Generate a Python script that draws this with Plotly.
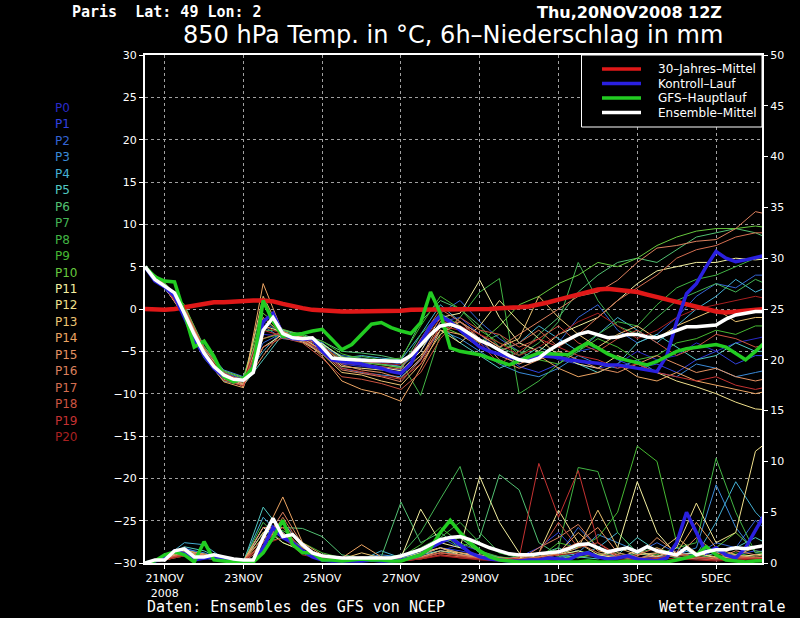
import plotly.graph_objects as go

# ---------------- data ----------------
hours6 = list(range(0, 390, 6))     # 20NOV2008 12Z + h
hours12 = list(range(0, 390, 12))

tick_hours = [12, 60, 108, 156, 204, 252, 300, 348]
tick_labels = ["21NOV<br>2008", "23NOV", "25NOV", "27NOV", "29NOV", "1DEC", "3DEC", "5DEC"]

clim_temp = [0.0, -0.1, -0.1, 0.0, 0.2, 0.4, 0.6, 0.8, 0.8, 0.9, 0.9, 1.0, 1.0, 0.9, 0.6, 0.3,
             0.1, -0.1, -0.2, -0.2, -0.3, -0.3, -0.3, -0.3, -0.3, -0.3, -0.2, -0.1, -0.1, 0.0,
             0.0, 0.0, 0.0, 0.0, 0.0, 0.0, 0.1, 0.1, 0.2, 0.3, 0.5, 0.8, 1.1, 1.4, 1.7, 2.0,
             2.3, 2.4, 2.3, 2.2, 2.0, 1.7, 1.4, 1.1, 0.8, 0.5, 0.2, -0.1, -0.3, -0.4, -0.3,
             -0.1, 0.0, 0.1, 0.1]

ctrl_temp = [5.0, 3.3, 2.6, 1.5, -1.0, -3.5, -5.5, -7.0, -8.0, -8.5, -8.3, -7.0, -1.5, -0.5,
             -3.0, -3.5, -3.6, -3.5, -5.0, -6.0, -6.2, -6.3, -6.5, -6.8, -7.0, -7.4, -7.6,
             -6.5, -4.0, -2.0, -0.8, -1.5, -2.5, -3.5, -4.5, -5.0, -5.3, -5.7, -6.0, -5.8,
             -5.5, -5.6, -5.7, -6.0, -6.2, -6.3, -6.4, -6.6, -6.6, -6.8, -7.0, -7.2, -7.4,
             -5.5, -1.5, 1.8, 3.0, 5.0, 6.8, 6.0, 5.6, 5.8, 6.1, 6.4, 6.6]

gfs_temp = [5.0, 3.8, 3.3, 3.2, -0.5, -4.5, -3.8, -5.6, -8.0, -8.6, -8.2, -6.9, 1.0, -1.5,
            -3.2, -3.1, -2.9, -2.6, -2.4, -3.6, -4.8, -4.2, -3.0, -1.8, -1.6, -2.2, -2.6,
            -2.9, -1.6, 2.0, -0.5, -4.6, -5.0, -5.2, -5.4, -5.8, -6.2, -6.6, -6.1, -5.6,
            -5.2, -5.3, -5.4, -5.4, -4.6, -4.0, -4.6, -5.3, -5.8, -6.1, -6.4, -6.6, -6.2,
            -5.6, -5.0, -4.7, -4.5, -4.3, -4.2, -4.5, -5.3, -6.0, -5.0, -3.9, -3.5]

mean_temp = [5.0, 3.5, 2.7, 1.9, -0.5, -3.0, -5.2, -6.8, -7.8, -8.3, -8.4, -7.5, -2.5, -1.0,
             -2.9, -3.4, -3.5, -3.4, -4.5, -5.8, -5.9, -6.0, -6.0, -6.1, -6.1, -6.2, -6.2,
             -5.5, -4.2, -3.0, -2.0, -1.8, -2.2, -2.9, -3.7, -4.2, -4.9, -5.5, -6.0, -6.2,
             -5.8, -4.9, -4.2, -3.6, -3.0, -2.7, -3.0, -3.4, -3.3, -3.0, -3.0, -3.3, -3.4,
             -3.0, -2.5, -2.1, -2.1, -2.0, -1.9, -1.2, -0.7, -0.5, -0.3, -0.3, -0.2]

ctrl_prec = [0.0, 0.2, 0.5, 1.2, 0.9, 0.3, 0.5, 0.6, 0.3, 0.2, 0.1, 0.1, 1.5, 3.5, 2.5, 2.0,
             1.2, 0.6, 0.3, 0.2, 0.2, 0.2, 0.2, 0.3, 0.2, 0.2, 0.3, 0.5, 0.8, 1.5, 2.0, 2.5,
             1.8, 1.0, 0.6, 0.4, 0.3, 0.2, 0.2, 0.3, 0.3, 0.5, 0.4, 0.3, 0.8, 1.0, 0.6, 0.4,
             0.5, 0.7, 0.4, 0.3, 0.2, 0.5, 2.0, 5.0, 3.0, 1.0, 1.5, 0.8, 0.5, 1.5, 3.2, 4.9, 5.0]

gfs_prec = [0.0, 0.2, 0.8, 1.1, 0.8, 0.1, 2.1, 0.3, 0.2, 0.1, 0.0, 0.1, 1.0, 2.5, 4.2, 1.8,
            1.0, 1.0, 0.3, 0.3, 0.2, 0.3, 0.4, 0.3, 0.3, 0.2, 0.2, 0.5, 0.8, 1.5, 3.0, 4.2,
            3.0, 2.0, 1.2, 0.6, 0.3, 0.2, 0.1, 0.1, 0.1, 0.1, 0.1, 0.1, 0.1, 0.2, 0.1, 0.1,
            0.1, 0.2, 0.1, 0.1, 0.1, 0.1, 0.3, 0.5, 0.8, 1.6, 0.8, 0.3, 0.2, 0.1, 0.2, 0.3, 0.3]

mean_prec = [0.0, 0.3, 0.3, 1.2, 1.4, 0.6, 0.6, 0.8, 0.6, 0.4, 0.3, 0.3, 2.5, 4.4, 2.6, 2.8,
             1.8, 1.0, 0.7, 0.6, 0.5, 0.5, 0.5, 0.5, 0.5, 0.5, 0.7, 1.0, 1.3, 1.8, 2.3, 2.5,
             2.6, 2.3, 1.9, 1.5, 1.2, 0.9, 0.8, 0.8, 0.9, 1.0, 1.1, 1.4, 1.8, 1.9, 1.5, 1.1,
             1.3, 1.5, 1.1, 1.6, 1.2, 1.0, 0.8, 1.5, 0.8, 1.1, 1.3, 1.3, 1.5, 1.4, 1.6, 1.8, 1.9]

member_names = ["P%d" % i for i in range(21)]
member_colors = ["#2a2ac8", "#3242e0", "#3464d4", "#3a8ad8", "#44b0d4", "#52c8c0", "#52c072",
                 "#44b454", "#42b444", "#46b832", "#66c83e", "#f4f0a0", "#f0e08c", "#ecc472",
                 "#eca462", "#e49262", "#dc805e", "#d46e50", "#cc5440", "#c43232", "#a82020"]

member_temp = [
    [5.0, 2.5, -0.8, -5.5, -8.2, -8.8, -3.0, -3.2, -3.6, -4.8, -6.5, -6.8, -7.0, -7.2, -3.5, -1.0, -2.5, -4.0, -5.5, -6.5, -5.0, -6.0, -6.5, -7.0, -6.5, -5.0, -6.0, -5.5, -4.0, -5.0, -4.0, -3.5, -3.0],
    [5.0, 2.8, -0.2, -4.8, -7.5, -8.3, -1.5, -3.0, -3.3, -4.0, -6.0, -6.5, -6.3, -6.8, -5.0, -1.5, -1.0, -3.0, -5.0, -6.8, -7.5, -6.5, -5.0, -4.5, -6.0, -7.0, -6.5, -7.5, -6.0, -5.0, -6.5, -5.5, -5.5],
    [5.0, 2.6, -0.6, -5.0, -7.7, -8.6, -4.0, -2.8, -3.5, -4.5, -5.5, -5.8, -6.2, -6.5, -4.5, -0.5, 1.0, -1.5, -3.5, -5.0, -6.0, -4.0, -1.0, 0.5, -2.5, -4.0, -3.0, -1.0, 1.5, 3.0, 2.5, 4.0, 4.0],
    [5.0, 2.9, 0.0, -4.5, -7.2, -8.0, -2.0, -3.5, -3.8, -5.0, -7.0, -7.5, -7.8, -8.0, -6.0, -2.5, -3.5, -5.0, -6.5, -7.5, -8.0, -7.0, -5.5, -6.5, -7.0, -6.0, -7.5, -8.0, -6.5, -7.0, -8.0, -7.5, -7.0],
    [5.0, 2.4, -0.4, -5.2, -7.9, -8.4, -5.0, -2.5, -3.2, -4.0, -5.8, -5.5, -5.8, -6.0, -3.0, 0.5, -1.5, -3.5, -5.0, -4.0, -2.0, -3.5, -5.0, -3.0, -1.0, -2.5, -4.0, -2.0, 0.0, 1.5, 3.5, 2.0, 3.0],
    [5.0, 2.7, -0.9, -5.8, -8.5, -9.0, -6.0, -3.0, -3.7, -4.2, -6.2, -6.0, -6.5, -6.8, -4.0, -2.0, -4.0, -5.5, -7.0, -6.0, -4.5, -5.5, -6.5, -7.5, -6.5, -4.0, -3.0, -4.5, -6.0, -5.5, -4.0, -5.0, -5.0],
    [5.0, 3.0, 0.3, -4.4, -7.4, -8.2, 0.5, -2.5, -3.0, -3.8, -5.0, -5.2, -5.5, -6.0, -1.5, 1.0, 0.0, -2.0, -4.5, -5.5, -3.0, -1.0, 2.0, 4.0, 5.5, 6.0, 5.5, 7.0, 8.5, 9.0, 9.5, 9.0, 8.0],
    [5.0, 2.8, -0.3, -5.0, -7.6, -8.5, -2.5, -2.6, -3.4, -4.2, -5.6, -6.2, -6.5, -7.0, -3.0, -0.5, -2.0, -4.0, -3.0, -5.5, -4.0, -1.5, 5.5, 1.0, -2.0, -3.0, -1.0, 1.0, 2.0, 3.0, 2.0, 3.5, 2.5],
    [5.0, 2.6, -0.5, -4.9, -7.8, -8.7, -1.0, -3.3, -3.9, -4.6, -5.8, -5.6, -6.0, -6.3, -10.2, -3.0, -1.0, 2.0, 3.6, -10.0, -8.5, -6.5, -4.5, -3.0, -1.5, -2.0, 0.5, 2.5, 3.5, 4.0, 5.0, 6.0, 5.5],
    [5.0, 2.9, -0.2, -5.1, -7.7, -8.4, -3.5, -2.9, -3.2, -3.8, -5.3, -5.9, -6.0, -5.8, -2.0, 1.5, 0.0, -2.5, -4.0, -5.0, -6.0, -6.5, -5.0, -3.5, -4.5, -6.0, -5.5, -4.0, -3.5, -2.5, -3.0, -2.0, -2.0],
    [5.0, 3.1, 0.5, -4.6, -7.3, -8.1, -0.5, -2.4, -3.1, -4.4, -6.1, -6.3, -6.6, -6.9, -4.5, -2.0, -3.0, -4.0, -2.0, 0.5, 1.5, 3.0, 4.0, 5.5, 5.0, 6.0, 7.5, 8.5, 9.2, 9.5, 9.5, 9.8, 9.5],
    [5.0, 2.5, -0.7, -5.3, -8.0, -8.9, -4.5, -3.0, -3.6, -4.1, -5.7, -6.4, -6.9, -7.3, -5.0, -1.0, -0.5, 3.4, -1.0, -4.0, -5.0, -3.0, -2.0, -1.0, 1.0, 3.0, 4.5, 5.0, 5.5, 5.5, 6.0, 5.8, 6.0],
    [5.0, 2.7, -0.4, -5.0, -7.9, -9.2, -2.0, -2.7, -3.4, -4.9, -6.8, -7.0, -7.2, -7.5, -5.5, -2.5, -4.0, -2.0, 1.0, -1.5, -3.5, -5.5, -6.5, -7.0, -5.5, -6.5, -7.5, -8.5, -9.2, -10.0, -11.0, -11.8, -12.0],
    [5.0, 2.8, -0.1, -4.7, -7.6, -8.9, 1.5, -3.1, -3.9, -5.3, -7.5, -7.8, -8.5, -9.0, -6.5, -3.0, -1.5, -3.0, -4.5, -3.5, 1.5, -1.0, -3.0, -4.5, -3.0, -2.0, -3.5, -2.0, -1.0, 0.0, -1.5, -1.0, -1.0],
    [5.0, 2.6, -0.9, -5.6, -8.6, -9.3, 3.0, -2.8, -3.5, -5.6, -8.5, -9.5, -10.0, -10.9, -7.0, -2.5, -3.0, -4.5, -5.5, -6.5, -5.5, -7.0, -8.0, -7.5, -6.5, -8.0, -8.5, -7.5, -8.5, -9.0, -9.5, -10.0, -9.5],
    [5.0, 2.9, 0.1, -4.9, -8.3, -9.0, -5.5, -2.6, -3.7, -4.7, -6.6, -7.2, -7.5, -8.2, -5.8, -1.5, -2.0, -3.5, -6.0, -7.0, -6.0, -5.0, -6.0, -7.0, -7.5, -6.5, -5.5, -6.5, -7.5, -7.0, -8.0, -8.5, -8.0],
    [5.0, 2.7, -0.6, -5.4, -8.1, -8.8, -1.0, -3.0, -3.8, -5.2, -7.2, -7.6, -8.0, -8.6, -6.0, -2.0, -1.5, -3.0, -4.5, -3.0, -1.5, 0.0, 1.5, 2.0, 3.4, 5.5, 7.2, 7.5, 8.0, 8.2, 9.5, 11.5, 11.0],
    [5.0, 2.5, -0.3, -5.1, -7.8, -8.3, -3.5, -2.7, -3.3, -4.3, -6.4, -6.6, -6.8, -7.1, -3.5, 0.0, -1.5, -3.5, -5.0, -4.0, -2.5, -4.5, -3.0, -1.0, 1.0, 2.5, 4.0, 6.0, 7.0, 7.5, 8.5, 9.0, 9.0],
    [5.0, 2.8, 0.2, -4.6, -7.5, -8.6, -4.5, -3.4, -4.0, -5.8, -8.0, -8.3, -8.8, -9.5, -7.5, -3.5, -1.0, -2.5, -3.0, -4.5, -3.5, -2.0, -4.0, -5.0, -3.5, -2.5, -4.0, -5.5, -4.5, -3.0, -3.5, -4.5, -4.0],
    [5.0, 2.6, -0.7, -5.3, -8.4, -9.1, -2.5, -3.2, -3.6, -5.0, -7.0, -7.4, -7.9, -8.3, -6.5, -2.0, -2.5, -4.0, -6.5, -5.0, -3.5, -4.5, -5.5, -6.0, -7.0, -6.5, -7.5, -8.0, -8.5, -8.0, -9.0, -9.5, -9.0],
    [5.0, 2.7, -0.4, -5.0, -7.7, -8.5, -2.0, -3.0, -3.5, -4.4, -6.0, -6.2, -6.4, -6.6, -4.0, -1.2, -2.0, -3.0, -4.0, -5.5, -4.5, -3.0, -1.5, -0.5, -2.0, -3.5, -2.5, -1.0, 0.0, 0.5, 1.0, 1.5, 1.0],
]

member_prec = [
    [0, 0.4, 1.0, 0.6, 0.3, 0.2, 2.5, 3.0, 1.2, 0.5, 0.3, 0.2, 0.2, 0.3, 0.6, 1.2, 1.8, 1.2, 0.5, 0.3, 0.4, 0.6, 1.0, 0.5, 0.8, 0.4, 0.6, 1.2, 0.5, 0.3, 0.8, 0.5, 0.6],
    [0, 0.5, 1.5, 0.8, 0.2, 0.1, 3.5, 2.5, 1.0, 0.3, 0.2, 0.3, 0.2, 0.2, 0.8, 1.5, 1.2, 0.8, 0.4, 0.6, 1.5, 3.0, 1.0, 0.8, 0.6, 0.3, 0.5, 0.8, 1.0, 0.5, 0.8, 1.2, 1.0],
    [0, 0.4, 1.1, 0.7, 0.4, 0.2, 2.0, 4.0, 1.8, 0.6, 0.4, 0.3, 0.2, 0.5, 1.2, 2.5, 1.5, 0.6, 0.3, 0.2, 0.5, 0.8, 3.5, 1.5, 0.5, 1.0, 2.0, 1.0, 0.8, 2.0, 1.5, 4.2, 2.5],
    [0, 0.6, 1.4, 1.0, 0.3, 0.2, 3.0, 3.0, 1.2, 0.8, 0.3, 0.5, 0.8, 0.6, 1.0, 2.0, 2.5, 1.0, 0.6, 0.3, 0.3, 0.5, 1.0, 2.8, 2.0, 1.2, 0.6, 0.8, 1.5, 7.7, 3.5, 1.0, 1.5],
    [0, 0.5, 2.0, 1.8, 0.4, 0.2, 4.5, 2.5, 1.0, 0.4, 0.4, 0.3, 1.2, 0.5, 0.8, 1.5, 1.0, 0.5, 0.4, 0.3, 0.6, 0.4, 0.8, 1.5, 3.0, 1.0, 0.5, 1.5, 0.8, 4.0, 8.0, 5.0, 3.0],
    [0, 0.6, 1.6, 1.2, 0.3, 0.1, 5.5, 3.0, 1.5, 0.5, 0.3, 0.4, 0.3, 0.4, 0.8, 1.2, 0.8, 0.6, 0.3, 0.5, 0.8, 1.5, 0.6, 0.4, 0.8, 2.5, 1.2, 0.6, 0.4, 1.0, 1.5, 2.5, 1.5],
    [0, 0.3, 0.8, 0.5, 0.2, 0.1, 2.0, 3.5, 3.4, 2.6, 0.8, 0.5, 0.6, 6.0, 2.0, 3.0, 1.5, 2.5, 8.7, 7.2, 2.0, 0.8, 0.5, 1.0, 0.6, 0.4, 1.0, 0.5, 0.6, 1.2, 0.8, 0.5, 0.4],
    [0, 0.4, 1.0, 0.6, 0.2, 0.1, 3.0, 2.8, 1.5, 0.8, 0.4, 0.6, 0.5, 0.8, 3.0, 6.3, 9.5, 3.0, 1.0, 0.5, 0.3, 0.6, 1.2, 0.8, 0.4, 1.0, 1.5, 0.8, 0.5, 0.6, 0.8, 0.4, 0.5],
    [0, 0.3, 0.9, 0.8, 0.3, 0.2, 4.0, 2.0, 1.2, 0.6, 0.3, 0.4, 0.3, 0.5, 1.5, 2.5, 4.0, 2.0, 1.0, 0.6, 0.4, 1.5, 9.4, 9.0, 3.0, 1.0, 0.8, 1.5, 2.0, 10.3, 5.0, 1.0, 0.8],
    [0, 0.5, 1.2, 0.9, 0.3, 0.1, 2.5, 3.2, 2.0, 1.0, 0.5, 0.3, 0.4, 0.6, 1.8, 3.5, 2.0, 1.2, 0.6, 0.4, 0.5, 2.0, 1.5, 2.5, 5.0, 11.5, 10.0, 2.0, 0.8, 0.5, 1.0, 0.6, 0.5],
    [0, 0.3, 0.7, 0.5, 0.2, 0.1, 2.0, 2.5, 1.0, 0.4, 0.2, 0.3, 0.2, 0.4, 1.0, 2.0, 2.5, 1.0, 0.5, 0.3, 0.2, 0.4, 0.6, 0.8, 1.0, 0.5, 0.4, 0.8, 0.6, 1.5, 3.0, 1.2, 0.8],
    [0, 0.4, 1.0, 0.7, 0.3, 0.2, 3.5, 2.0, 1.2, 0.6, 0.3, 0.3, 0.2, 0.5, 5.3, 2.0, 1.5, 8.5, 4.0, 1.0, 0.5, 0.8, 1.2, 0.6, 1.5, 8.0, 3.0, 0.8, 1.0, 0.5, 0.6, 0.8, 1.0],
    [0, 0.5, 1.3, 0.8, 0.4, 0.2, 2.5, 3.0, 1.0, 0.5, 0.3, 0.2, 0.3, 0.4, 1.0, 1.5, 0.8, 0.5, 0.3, 0.5, 1.0, 5.2, 2.0, 0.8, 0.5, 1.2, 0.6, 1.5, 5.9, 2.0, 3.0, 11.0, 12.5],
    [0, 0.4, 1.1, 0.7, 0.3, 0.2, 3.0, 4.0, 1.5, 0.7, 0.4, 1.0, 0.5, 0.3, 0.6, 1.2, 1.0, 0.6, 0.4, 0.3, 0.6, 0.8, 1.5, 5.2, 1.5, 0.8, 1.0, 2.5, 1.0, 0.6, 0.8, 1.5, 2.0],
    [0, 0.3, 0.9, 0.6, 0.3, 0.2, 2.5, 6.5, 2.0, 0.8, 0.5, 1.8, 0.6, 0.4, 0.8, 1.5, 1.0, 0.8, 0.5, 0.4, 0.5, 1.0, 3.0, 1.2, 0.8, 0.5, 0.7, 1.0, 4.0, 1.5, 0.8, 0.5, 0.6],
    [0, 0.5, 1.2, 0.9, 0.4, 0.2, 3.5, 3.5, 1.2, 0.5, 0.3, 0.6, 0.4, 0.3, 0.5, 1.0, 0.8, 0.5, 0.3, 0.6, 1.0, 0.8, 2.0, 3.5, 1.0, 0.6, 2.5, 1.0, 0.6, 0.4, 1.2, 0.8, 0.5],
    [0, 0.4, 1.0, 0.8, 0.3, 0.1, 2.0, 5.0, 1.8, 0.6, 0.3, 0.4, 0.3, 0.2, 0.6, 1.0, 0.8, 0.6, 0.5, 0.3, 1.5, 2.5, 3.8, 1.5, 0.6, 0.4, 1.0, 0.6, 2.5, 1.0, 0.5, 0.4, 0.3],
    [0, 0.3, 0.8, 0.6, 0.2, 0.1, 1.5, 4.5, 1.5, 0.4, 0.2, 0.5, 0.3, 0.2, 0.4, 0.8, 0.6, 0.5, 0.3, 0.4, 0.6, 1.2, 2.0, 1.0, 0.5, 0.8, 1.5, 0.6, 0.4, 0.3, 0.5, 0.6, 0.4],
    [0, 0.4, 0.9, 0.7, 0.3, 0.2, 2.5, 3.0, 1.0, 0.5, 0.3, 0.3, 0.5, 0.3, 0.5, 1.0, 0.7, 0.4, 0.3, 0.3, 1.0, 4.0, 1.5, 2.0, 0.8, 0.5, 0.4, 1.0, 0.6, 0.5, 0.7, 0.4, 0.3],
    [0, 0.3, 0.8, 0.6, 0.3, 0.2, 2.0, 3.5, 1.2, 0.5, 0.3, 0.3, 0.3, 0.2, 0.4, 0.8, 0.5, 0.4, 0.3, 0.5, 9.8, 4.5, 9.1, 2.0, 0.6, 0.4, 0.5, 0.8, 0.5, 0.3, 0.4, 0.5, 0.3],
    [0, 0.3, 0.7, 0.5, 0.2, 0.1, 1.8, 2.5, 0.8, 0.4, 0.2, 0.3, 0.2, 0.2, 0.4, 0.7, 0.5, 0.3, 0.2, 0.3, 0.5, 0.8, 1.0, 0.6, 0.4, 0.3, 0.5, 0.4, 0.3, 0.2, 0.3, 0.4, 0.3],
]

legend_names = ["30\u2013Jahres\u2013Mittel", "Kontroll\u2013Lauf", "GFS\u2013Hauptlauf", "Ensemble\u2013Mittel"]
legend_colors = ["#e01818", "#2a20e0", "#22cc22", "#ffffff"]

# ---------------- figure ----------------
fig = go.Figure()

for name, col, t, p in zip(member_names, member_colors, member_temp, member_prec):
    fig.add_trace(go.Scatter(x=hours12[:len(t)], y=t, mode="lines", name=name,
                             line=dict(color=col, width=1), showlegend=False, hoverinfo="skip"))
    fig.add_trace(go.Scatter(x=hours12[:len(p)], y=p, mode="lines", name=name, yaxis="y2",
                             line=dict(color=col, width=1), showlegend=False, hoverinfo="skip"))

main = [
    (legend_names[0], legend_colors[0], 4.5, clim_temp, None),
    (legend_names[1], legend_colors[1], 3.5, ctrl_temp, ctrl_prec),
    (legend_names[2], legend_colors[2], 3.5, gfs_temp, gfs_prec),
    (legend_names[3], legend_colors[3], 3.5, mean_temp, mean_prec),
]
for name, col, w, t, p in main:
    fig.add_trace(go.Scatter(x=hours6[:len(t)], y=t, mode="lines", name=name,
                             line=dict(color=col, width=w), showlegend=False))
    if p is not None:
        fig.add_trace(go.Scatter(x=hours6[:len(p)], y=p, mode="lines", name=name, yaxis="y2",
                                 line=dict(color=col, width=w), showlegend=False))

FONT = "DejaVu Sans"
MONO = "DejaVu Sans Mono"
W_PLOT, H_PLOT, L0, B0 = 617.0, 508.0, 145.0, 563.0


def px(x):
    return (x - L0) / W_PLOT


def py(y):
    return (B0 - y) / H_PLOT


ann = [
    dict(text="Paris  Lat: 49 Lon: 2", x=px(71), y=py(2), xanchor="left", yanchor="top",
         font=dict(size=15, color="white", family=MONO, weight="bold")),
    dict(text="Thu,20NOV2008 12Z", x=px(723), y=py(2), xanchor="right", yanchor="top",
         font=dict(size=16, color="white", family=FONT, weight="bold")),
    dict(text="850 hPa Temp. in \u00b0C, 6h\u2013Niederschlag in mm", x=px(453), y=py(50),
         xanchor="center", yanchor="bottom", font=dict(size=24, color="white", family=FONT)),
    dict(text="Daten: Ensembles des GFS von NCEP", x=px(146), y=py(607), xanchor="left",
         yanchor="middle", font=dict(size=15, color="white", family=MONO)),
    dict(text="Wetterzentrale", x=px(786), y=py(607), xanchor="right", yanchor="middle",
         font=dict(size=15, color="white", family=MONO)),
]
for i, (name, col) in enumerate(zip(member_names, member_colors)):
    ann.append(dict(text=name, x=px(54), y=py(108 + i * 16.45), xanchor="left", yanchor="middle",
                    font=dict(size=12, color=col, family=FONT)))

# legend box (drawn as a key, top right)
shapes = [dict(type="rect", xref="paper", yref="paper", x0=px(581.5), x1=1.0, y0=py(127), y1=1.0,
               fillcolor="black", line=dict(color="white", width=1), layer="above")]
row_y = [69, 83.5, 98, 112.5]
for name, col, ry in zip(legend_names, legend_colors, row_y):
    shapes.append(dict(type="line", xref="paper", yref="paper", x0=px(602), x1=px(641),
                       y0=py(ry), y1=py(ry), line=dict(color=col, width=3.5), layer="above"))
    ann.append(dict(text=name, x=px(657), y=py(ry), xanchor="left", yanchor="middle",
                    font=dict(size=12, color="white", family=FONT)))

for a in ann:
    a.update(xref="paper", yref="paper", showarrow=False, borderpad=0)

axis_common = dict(color="white", tickfont=dict(size=11, color="white", family=FONT),
                   showline=True, linecolor="white", linewidth=2, zeroline=False)

fig.update_layout(
    width=800, height=618,
    margin=dict(l=145, r=38, t=55, b=55),
    paper_bgcolor="black", plot_bgcolor="black",
    font=dict(family=FONT, color="white"),
    showlegend=False,
    annotations=ann,
    shapes=shapes,
    xaxis=dict(range=[0, 376], tickvals=tick_hours, ticktext=tick_labels, ticks="outside",
               ticklen=4, tickcolor="white",
               showgrid=True, gridcolor="#a0a0a0", griddash="dot", gridwidth=1,
               mirror=True, **axis_common),
    yaxis=dict(range=[-30, 30], tick0=-30, dtick=5, ticks="outside", ticklen=4, tickcolor="white",
               showgrid=True, gridcolor="#a0a0a0", griddash="dot", gridwidth=1, **axis_common),
    yaxis2=dict(range=[0, 50], tick0=0, dtick=5, overlaying="y", side="right", ticks="outside",
                ticklen=4, tickcolor="white", showgrid=False, **axis_common),
)

fig.write_html("out.html", config={"displayModeBar": False},
               post_script="document.body.style.margin='0';document.body.style.overflow='hidden';"
                           "window.dispatchEvent(new Event('resize'));")
